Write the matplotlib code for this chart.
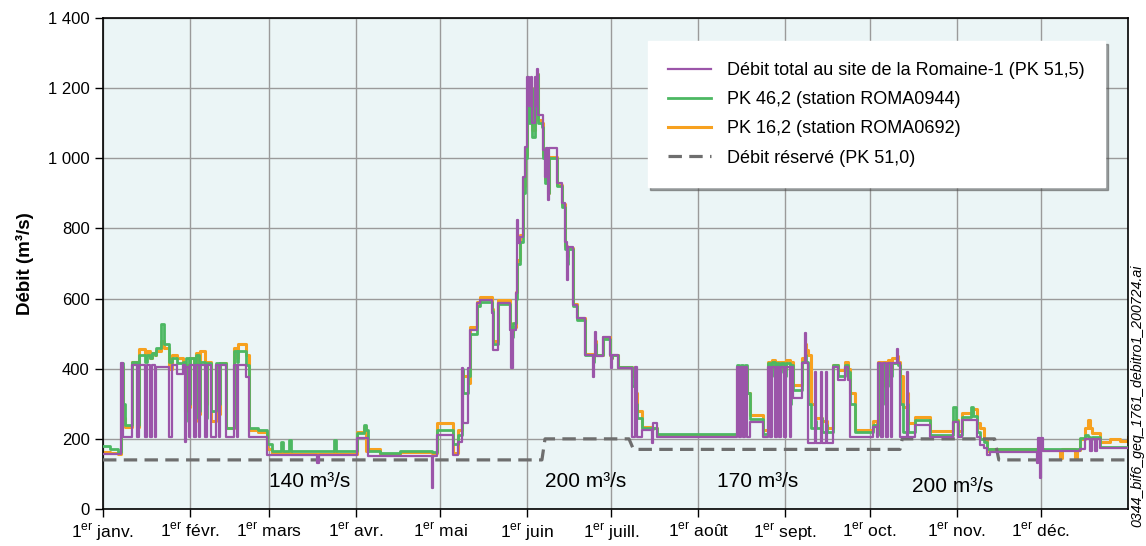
import matplotlib.pyplot as plt
from matplotlib.ticker import FuncFormatter

plt.rcParams['font.family'] = ['Liberation Sans', 'DejaVu Sans']
plt.rcParams['mathtext.fontset'] = 'custom'
plt.rcParams['mathtext.rm'] = 'Liberation Sans'

# day of year (0 = 1er janvier), step values in m3/s
days = [0.0, 2.5, 5.3, 6.4, 7.1, 7.8, 10.3, 12.1, 12.8, 15.0, 15.7, 16.7, 17.5, 18.5,
        18.9, 20.6, 21.7, 23.5, 24.6, 26.4, 28.5, 29.2, 29.6, 30.6, 31.0, 32.4, 33.1,
        34.2, 34.5, 36.3, 37.0, 38.5, 40.2, 41.3, 41.7, 43.8, 46.7, 47.7, 48.1, 50.9,
        52.0, 55.2, 58.4, 60.2, 63.4, 64.1, 66.2, 66.9, 76.2, 76.9, 82.3, 83.0, 90.5,
        93.0, 93.7, 94.4, 98.6, 105.8, 117.2, 117.5, 118.9, 124.6, 126.4, 127.8, 128.2,
        130.0, 130.7, 133.2, 134.2, 138.5, 138.9, 140.7, 144.9, 145.3, 146.0, 147.1,
        147.4, 147.8, 148.5, 149.6, 150.3, 151.0, 151.7, 152.4, 152.8, 153.8, 154.2,
        154.6, 154.9, 156.3, 156.7, 157.4, 157.8, 158.5, 158.8, 161.7, 163.5, 164.5,
        165.2, 165.6, 167.4, 168.8, 171.7, 174.5, 174.9, 175.2, 175.6, 178.1, 180.6,
        180.9, 181.3, 183.4, 188.4, 189.5, 190.2, 192.0, 195.5, 195.9, 197.3, 212.6,
        225.8, 226.5, 227.2, 227.9, 228.6, 229.3, 230.4, 235.0, 236.8, 237.5, 238.2,
        239.3, 240.0, 240.7, 241.4, 242.5, 243.2, 244.6, 245.0, 245.7, 248.9, 250.0,
        250.4, 251.1, 252.1, 253.6, 253.9, 255.7, 256.1, 257.5, 257.9, 260.0, 261.8,
        264.2, 265.3, 266.0, 267.8, 274.2, 275.6, 276.0, 277.1, 277.8, 278.8, 279.6,
        280.6, 281.0, 282.8, 283.1, 283.8, 284.9, 286.3, 286.7, 289.2, 294.5, 302.7,
        303.8, 304.5, 305.9, 309.1, 309.8, 311.3, 312.3, 313.7, 314.8, 315.9, 332.6,
        333.0, 333.7, 334.0, 334.8, 340.8, 341.5, 346.1, 346.9, 348.0, 349.8, 350.9,
        351.6, 352.3, 353.4, 354.1, 355.1, 358.6, 362.1, 365.0]

total = [157, 157, 157, 415, 205, 205, 410, 205, 410, 205, 410, 205, 410, 205,
         405, 405, 405, 205, 410, 385, 410, 190, 405, 205, 410, 205, 410,
         205, 410, 205, 410, 205, 410, 205, 410, 205, 410, 205, 410, 375,
         205, 205, 154, 154, 154, 154, 154, 154, 131, 154, 154, 154, 202,
         202, 202, 151, 151, 151, 60, 151, 211, 154, 191, 402, 245,
         402, 510, 587, 596, 559, 453, 587, 510, 402, 510, 616,
         824, 758, 776, 947, 1032, 1232, 1150, 1232, 1100, 1232, 1150,
         1255, 1123, 1123, 1024, 947, 1029, 881, 1029, 930, 873, 761,
         653, 747, 582, 545, 439, 376, 437, 505, 437, 490, 439,
         402, 439, 402, 205, 405, 205, 225, 188, 245, 205, 205,
         405, 205, 405, 205, 405, 205, 248, 205, 405, 205, 405,
         205, 405, 205, 405, 205, 405, 205, 405, 317, 416, 502,
         416, 188, 188, 390, 188, 390, 188, 390, 188, 405, 368,
         405, 368, 205, 205, 234, 205, 416, 205, 416, 205, 416,
         205, 416, 455, 416, 205, 205, 390, 205, 240, 205, 248,
         248, 205, 254, 254, 254, 205, 182, 175, 154, 162, 131,
         202, 88, 202, 165, 165, 165, 165, 165, 170, 200, 200,
         165, 200, 165, 200, 174, 174, 174, 174]

pk_46_2 = [180, 170, 162, 415, 300, 240, 420, 240, 440, 420, 440, 430, 445, 440,
           460, 527, 470, 420, 430, 415, 420, 250, 430, 300, 430, 260, 440,
           280, 420, 260, 415, 280, 415, 300, 415, 230, 450, 420, 450, 410,
           230, 225, 185, 165, 190, 165, 197, 165, 165, 165, 197, 165, 216,
           240, 225, 165, 160, 165, 162, 162, 225, 185, 210, 400, 330,
           380, 500, 580, 590, 565, 470, 585, 520, 490, 530, 600,
           700, 700, 760, 900, 1000, 1150, 1100, 1200, 1060, 1200, 1130,
           1240, 1100, 1090, 1000, 930, 1000, 900, 1001, 920, 860, 740,
           700, 740, 580, 540, 440, 420, 438, 470, 440, 485, 440,
           430, 440, 405, 350, 300, 260, 230, 228, 230, 213, 214,
           410, 380, 410, 370, 410, 330, 257, 215, 415, 380, 420,
           400, 415, 390, 415, 380, 415, 300, 410, 340, 420, 440,
           420, 300, 230, 250, 230, 260, 220, 240, 220, 410, 380,
           410, 390, 300, 220, 240, 210, 410, 300, 410, 350, 415,
           380, 415, 420, 410, 300, 220, 300, 220, 255, 212, 290,
           250, 212, 262, 290, 265, 220, 200, 190, 170, 171, 171,
           175, 170, 172, 171, 170, 171, 172, 172, 202, 210, 205,
           200, 205, 205, 205, 177, 177, 177, 177]

pk_16_2 = [162, 160, 158, 405, 260, 235, 420, 235, 455, 440, 450, 430, 445, 440,
           450, 480, 460, 400, 440, 430, 420, 280, 410, 290, 430, 250, 445,
           270, 450, 300, 420, 250, 410, 270, 415, 230, 460, 430, 470, 440,
           225, 220, 170, 160, 160, 160, 165, 158, 158, 158, 160, 158, 220,
           235, 165, 170, 158, 162, 160, 160, 245, 160, 225, 393, 380,
           360, 519, 590, 605, 570, 480, 595, 530, 500, 520, 620,
           710, 710, 780, 920, 1010, 1150, 1120, 1200, 1080, 1220, 1150,
           1240, 1110, 1100, 1010, 940, 1010, 900, 1005, 925, 870, 750,
           720, 745, 585, 545, 442, 430, 440, 480, 440, 490, 440,
           430, 440, 405, 380, 330, 280, 235, 230, 230, 210, 211,
           400, 360, 405, 360, 400, 330, 268, 225, 420, 400, 425,
           410, 420, 400, 420, 400, 425, 380, 420, 354, 430, 470,
           453, 440, 300, 260, 260, 260, 250, 250, 230, 410, 396,
           420, 400, 330, 225, 250, 215, 420, 350, 420, 380, 425,
           400, 430, 435, 420, 380, 290, 330, 245, 262, 222, 250,
           255, 222, 274, 274, 285, 245, 230, 200, 165, 170, 170,
           172, 170, 170, 168, 145, 170, 145, 168, 200, 230, 254,
           230, 217, 217, 217, 190, 200, 195, 205]

# débit réservé
reserve_days = [0, 156.3, 157.4, 187.3, 188.9, 283.8, 284.6, 317.5, 319.0, 365]
reserve_vals = [140, 140, 200, 200, 170, 170, 200, 200, 140, 140]

month_starts = [0, 31, 59, 90, 120, 151, 181, 212, 243, 273, 304, 334]
month_names = ['janv.', 'févr.', 'mars', 'avr.', 'mai', 'juin', 'juill.',
               'août', 'sept.', 'oct.', 'nov.', 'déc.']

purple = '#9b55a9'
green = '#4cb862'
orange = '#f7a11f'

fig = plt.figure(figsize=(11.46, 5.46), dpi=100)
ax = fig.add_axes([103 / 1146, 37 / 546, 1025 / 1146, 491 / 546])
ax.set_facecolor('#ebf5f6')

ax.plot(days, pk_16_2, drawstyle='steps-post', color=orange, lw=2.2, zorder=2,
        label='PK 16,2 (station ROMA0692)')
ax.plot(days, pk_46_2, drawstyle='steps-post', color=green, lw=2.0, zorder=3,
        label='PK 46,2 (station ROMA0944)')
ax.plot(reserve_days, reserve_vals, color='#6e6e6e', lw=2.3, ls=(0, (4.2, 2.3)),
        zorder=4, label='Débit réservé (PK 51,0)')
ax.plot(days, total, drawstyle='steps-post', color=purple, lw=1.6, zorder=5,
        label='Débit total au site de la Romaine-1 (PK 51,5)')

ax.set_xlim(0, 365)
ax.set_ylim(0, 1400)
ax.set_xticks(month_starts)
ax.set_xticklabels([r'1$^{\mathrm{er}}$ ' + m for m in month_names])
ax.set_yticks(range(0, 1401, 200))
ax.yaxis.set_major_formatter(FuncFormatter(lambda v, p: f'{int(v):,}'.replace(',', ' ')))
ax.tick_params(axis='y', labelsize=12)
ax.tick_params(axis='x', labelsize=12.5)
ax.tick_params(length=6, width=1, color='black')
ax.grid(True, color='#9a9a9a', lw=1)
ax.set_axisbelow(True)
for s in ax.spines.values():
    s.set_color('black')
    s.set_linewidth(1.2)

ax.set_ylabel('Débit (m³/s)', fontsize=13.5, fontweight='bold', labelpad=10)

for x, y, t in [(73.7, 77, '140 m³/s'), (171.7, 77, '200 m³/s'),
                (233, 77, '170 m³/s'), (302.7, 63, '200 m³/s')]:
    ax.text(x, y, t, fontsize=15, ha='center', va='center')

h, l = ax.get_legend_handles_labels()
order = [3, 1, 0, 2]
leg = ax.legend([h[i] for i in order], [l[i] for i in order],
                loc='upper right', bbox_to_anchor=(0.978, 0.953), fontsize=13,
                frameon=True, fancybox=False, shadow=True, framealpha=1,
                edgecolor='white', borderpad=1.15, labelspacing=0.68,
                handlelength=2.35, handletextpad=0.9, borderaxespad=0)
leg.set_zorder(10)

fig.text(1137 / 1146, 1 - 396 / 546, '0344_bif6_geq_1761_debitro1_200724.ai',
         rotation=90, style='italic', fontsize=10.3, ha='center', va='center')

fig.savefig('out.png', dpi=100)
